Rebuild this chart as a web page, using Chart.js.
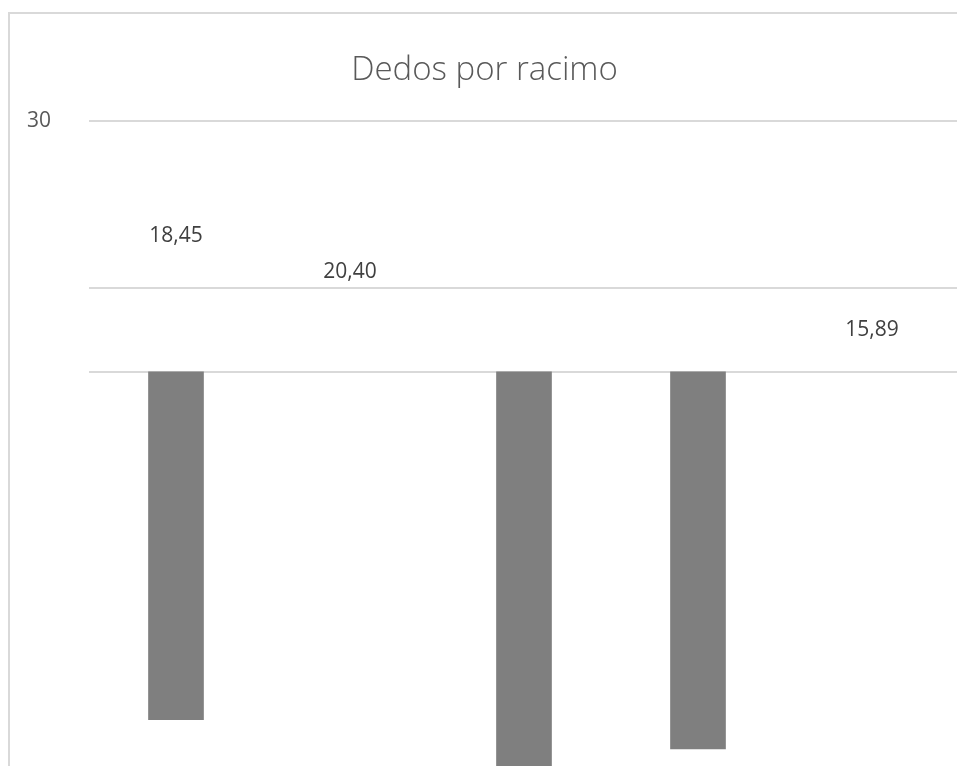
<!DOCTYPE html>
<html>
<head>
<meta charset="utf-8">
<script src="https://cdn.jsdelivr.net/npm/chart.js@4"></script>
<style>
  html, body { margin: 0; padding: 0; background: #fff; overflow: hidden; }
  #marco {
    position: absolute; left: 8px; top: 12px;
    border-left: 2px solid #d9d9d9; border-top: 2px solid #d9d9d9;
    width: 954px; height: 836px;
  }
  canvas { display: block; }
</style>
</head>
<body>
<div id="marco"><canvas id="dedosChart" width="954" height="836"></canvas></div>
<script>
// Dados
const categorias = ["1", "2", "3", "4", "5"];
const baseBarras = 15;
const fimBarras = [-5.8, null, -9.5, -7.55, null];
const rotulos = ["18,45", "20,40", "", "", "15,89"];
const alturaRotulos = [23.1, 21.0, null, null, 17.5];
const ticksY = [15, 20, 30];

const barras = fimBarras.map(v => (v === null ? null : [baseBarras, v]));

// Plugin simples para desenhar os rótulos de dados
const rotulosPlugin = {
    id: "rotulos",
    afterDatasetsDraw(chart) {
        const ctx = chart.ctx;
        const meta = chart.getDatasetMeta(1);
        ctx.save();
        ctx.font = "21px 'Open Sans'";
        ctx.fillStyle = "#404040";
        ctx.textAlign = "center";
        ctx.textBaseline = "middle";
        meta.data.forEach((pt, i) => {
            if (alturaRotulos[i] === null || !rotulos[i]) return;
            ctx.fillText(rotulos[i], pt.x, pt.y);
        });
        ctx.restore();
    }
};

const ctx = document.getElementById("dedosChart").getContext("2d");
new Chart(ctx, {
    data: {
        labels: categorias,
        datasets: [{
            type: "bar",
            data: barras,
            backgroundColor: "#7f7f7f",
            barThickness: 55
        }, {
            type: "line",
            data: alturaRotulos,
            showLine: false,
            pointRadius: 0
        }]
    },
    options: {
        responsive: false,
        devicePixelRatio: 1,
        animation: false,
        events: [],
        layout: { padding: { left: 0, right: 5, top: 0, bottom: 60 } },
        scales: {
            x: { display: false, offset: true },
            y: {
                min: -10,
                max: 30,
                afterBuildTicks: (scale) => { scale.ticks = ticksY.map(v => ({ value: v })); },
                afterFit: (scale) => { scale.width = 79; },
                border: { display: false },
                grid: { color: "#d9d9d9", lineWidth: 2, drawTicks: false },
                ticks: {
                    padding: 38,
                    color: "#595959",
                    font: { family: "Open Sans", size: 21 },
                    callback: (v) => (v === 30 ? "30" : "")
                }
            }
        },
        plugins: {
            legend: { display: false },
            tooltip: { enabled: false },
            title: {
                display: true,
                text: "Dedos por racimo",
                color: "#595959",
                font: { family: "Open Sans", size: 33, weight: "300" },
                padding: { top: 37.2, bottom: 30.2 }
            }
        }
    },
    plugins: [rotulosPlugin]
});
</script>
</body>
</html>
